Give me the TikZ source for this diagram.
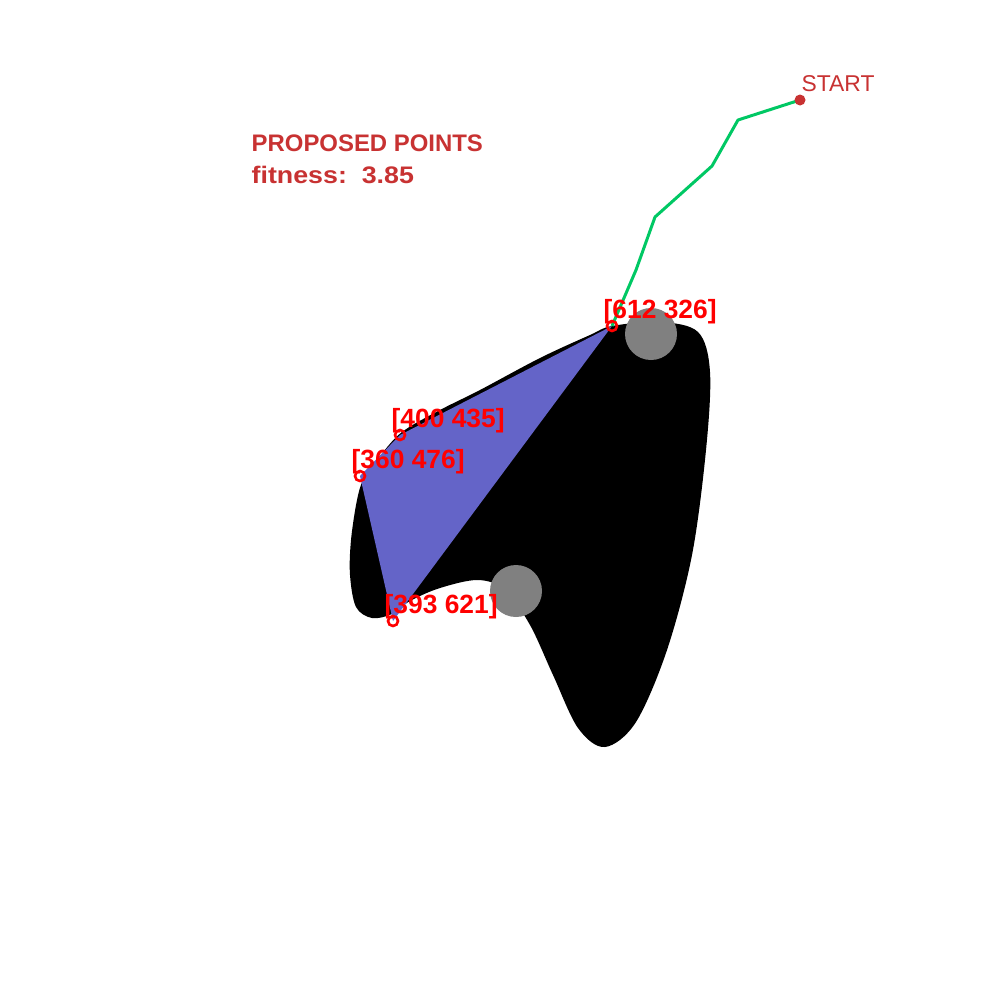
\documentclass[tikz,border=0pt]{standalone}
\usepackage{fontspec}
\setmainfont{Liberation Sans}
\usetikzlibrary{calc}
\definecolor{txtred}{RGB}{200,50,50}
\definecolor{ptred}{RGB}{255,0,0}
\definecolor{polyblue}{RGB}{100,100,200}
\definecolor{obsgray}{RGB}{128,128,128}
\definecolor{pathgreen}{RGB}{0,200,100}
\tikzset{
  ptmark/.style={draw=ptred, line width=0.75pt, circle, minimum size=1mm, inner sep=0pt},
  ptlabel/.style={anchor=base west, text=ptred, font=\fontsize{7.5}{8}\selectfont\bfseries, inner sep=0pt},
  titletext/.style={anchor=base west, text=txtred, font=\fontsize{6.8}{8}\selectfont\bfseries, inner sep=0pt},
  pathline/.style={draw=pathgreen, line width=0.85pt, line join=round},
}
\begin{document}
\begin{tikzpicture}[x=0.01cm, y=-0.01cm]
\useasboundingbox (0,0) rectangle (1000,1000);
\fill[white] (0,0) rectangle (1000,1000);
% black region
\fill[black] plot[smooth cycle, tension=0.55] coordinates {
 (612,326) (660,322) (698,332) (710,372) (706,450) (692,555) (667,650) (636,722) (605,747)
 (578,728) (553,675) (530,625) (505,590) (478,580) (440,588) (410,601) (392,614)
 (372,618) (356,607) (350,575) (351,540) (357,500) (364,478) (380,456) (402,432)
 (440,410) (480,390) (540,358) (590,335)};
% points
\coordinate (p1) at (612,326);
\coordinate (p2) at (400,435);
\coordinate (p3) at (360,476);
\coordinate (p4) at (393,621);
\fill[polyblue] (p1) -- (p2) -- (p3) -- (p4) -- cycle;
% obstacles
\fill[obsgray] (651,334) circle (26);
\fill[obsgray] (516,591) circle (26);
% path
\coordinate (s) at (800,100);
\coordinate (w1) at (738,120);
\coordinate (w2) at (712,166);
\coordinate (w3) at (655,217);
\coordinate (w4) at (636,270);
\draw[pathline] (s) -- (w1) -- (w2) -- (w3) -- (w4) -- (p1);
\fill[txtred] (s) circle (5.5);
\node[anchor=base west, text=txtred, font=\fontsize{6.5}{8}\selectfont, inner sep=0pt] (startlbl) at (801,91) {START};
% point markers
\foreach \p in {p1,p2,p3,p4} { \node[ptmark] (m\p) at (\p) {}; }
\node[ptlabel] (l1) at ($(p1)+(-9,-8)$) {[612 326]};
\node[ptlabel] (l2) at ($(p2)+(-9,-8)$) {[400 435]};
\node[ptlabel] (l3) at ($(p3)+(-9,-8)$) {[360 476]};
\node[ptlabel] (l4) at ($(p4)+(-9,-8)$) {[393 621]};
% titles
\node[titletext] (t1) at (251,151) {PROPOSED POINTS};
\node[titletext] (t2) at (251,183) {\scalebox{1.12}[1]{fitness:\ \ 3.85}};
\end{tikzpicture}
\end{document}
